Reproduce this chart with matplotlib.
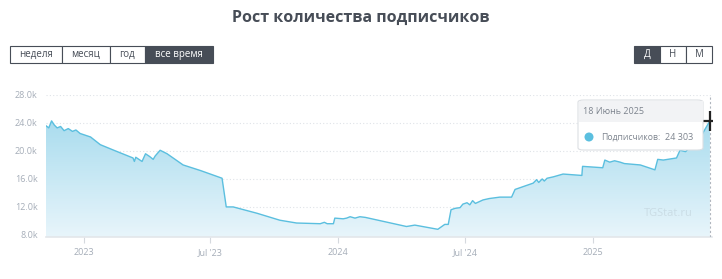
import matplotlib.pyplot as plt
import matplotlib.dates as mdates
import numpy as np
import pandas as pd
from matplotlib.patches import Rectangle, FancyBboxPatch, Ellipse
from matplotlib.colors import LinearSegmentedColormap

plt.rcParams['font.family'] = ['Open Sans', 'DejaVu Sans']

# данные
dates = pd.to_datetime([
    '2022-11-07', '2022-11-11', '2022-11-15', '2022-11-19', '2022-11-23', '2022-11-28',
    '2022-12-03', '2022-12-09', '2022-12-15', '2022-12-20', '2022-12-26', '2023-01-10',
    '2023-01-24', '2023-02-15', '2023-03-12', '2023-03-14', '2023-03-16', '2023-03-25',
    '2023-03-30', '2023-04-05', '2023-04-10', '2023-04-13', '2023-04-20', '2023-04-30',
    '2023-05-23', '2023-06-17', '2023-07-18', '2023-07-24', '2023-08-03', '2023-09-06',
    '2023-10-09', '2023-11-02', '2023-12-06', '2023-12-12', '2023-12-16', '2023-12-25',
    '2023-12-27', '2024-01-08', '2024-01-13', '2024-01-18', '2024-01-25', '2024-02-01',
    '2024-02-09', '2024-04-08', '2024-04-20', '2024-05-23', '2024-06-02', '2024-06-07',
    '2024-06-11', '2024-06-17', '2024-06-24', '2024-06-28', '2024-07-04', '2024-07-08',
    '2024-07-12', '2024-07-16', '2024-07-27', '2024-08-05', '2024-08-20', '2024-09-06',
    '2024-09-11', '2024-10-07', '2024-10-12', '2024-10-15', '2024-10-20', '2024-10-23',
    '2024-10-27', '2024-11-05', '2024-11-19', '2024-12-16', '2024-12-17', '2025-01-15',
    '2025-01-18', '2025-01-25', '2025-02-01', '2025-02-09', '2025-02-15', '2025-03-10',
    '2025-03-31', '2025-04-04', '2025-04-12', '2025-05-01', '2025-05-06', '2025-05-14',
    '2025-05-20', '2025-06-01', '2025-06-08', '2025-06-18',
])
subs = [
    23600, 23300, 24300, 23700, 23300, 23500,
    22900, 23200, 22800, 23000, 22500, 22000,
    20900, 20000, 19000, 18500, 19100, 18500,
    19600, 19200, 18800, 19300, 20100, 19600,
    18000, 17200, 16100, 12000, 12000, 11100,
    10100, 9700, 9600, 9800, 9600, 9600,
    10400, 10300, 10400, 10600, 10400, 10600,
    10500, 9200, 9400, 8800, 9500, 9500,
    11600, 11800, 11900, 12400, 12600, 12300,
    12900, 12500, 13000, 13200, 13400, 13400,
    14500, 15400, 15900, 15500, 16000, 15700,
    16100, 16300, 16700, 16500, 17800, 17600,
    18700, 18400, 18600, 18400, 18200, 18000,
    17300, 18800, 18700, 19000, 20100, 19900,
    20500, 20800, 22600, 24303,
]

yticks = [8000, 12000, 16000, 20000, 24000, 28000]
ytick_labels = ['8.0k', '12.0k', '16.0k', '20.0k', '24.0k', '28.0k']
xticks = pd.to_datetime(['2023-01-01', '2023-07-01', '2024-01-01', '2024-07-01', '2025-01-01'])
xtick_labels = ['2023', "Jul '23", '2024', "Jul '24", '2025']
periods = ['неделя', 'месяц', 'год', 'все время']
scales = ['Д', 'Н', 'М']

W, H = 722, 279
fig = plt.figure(figsize=(W / 100, H / 100), dpi=100)
ax = fig.add_axes([46 / W, 42 / H, 666 / W, 142 / H])

line_c = '#5bbfdf'
x = mdates.date2num(dates)
y = np.array(subs, dtype=float)
ymin, ymax = 7700, 28000

# градиентная заливка под линией
grad = np.linspace(0, 1, 256).reshape(-1, 1)
cmap = LinearSegmentedColormap.from_list('g', ['#e8f5fb', '#a9dcee'])
im = ax.imshow(grad, aspect='auto', cmap=cmap, origin='lower',
               extent=[x[0], x[-1], ymin, 24500], zorder=1)
poly = ax.fill_between(x, y, ymin, color='none')
im.set_clip_path(poly.get_paths()[0], transform=ax.transData)
ax.plot(x, y, color=line_c, lw=1.0, zorder=3)

ax.set_xlim(mdates.date2num(pd.Timestamp('2022-11-07')), mdates.date2num(pd.Timestamp('2025-06-21')))
ax.set_ylim(ymin, ymax)
ax.set_yticks(yticks)
ax.set_yticklabels(ytick_labels)
ax.set_xticks(mdates.date2num(xticks))
ax.set_xticklabels(xtick_labels)
for yt in yticks:
    ax.axhline(yt, color='#dfe3e8', lw=0.8, ls=(0, (1, 2)), zorder=0)
for s in ['top', 'right', 'left']:
    ax.spines[s].set_visible(False)
ax.spines['bottom'].set_color('#e3e6ea')
ax.spines['bottom'].set_linewidth(1.2)
ax.tick_params(axis='y', length=0, labelsize=6.5, labelcolor='#a5adb8', pad=6)
ax.tick_params(axis='x', length=4, color='#d5d9de', labelsize=6.5, labelcolor='#a5adb8', pad=4)

# вертикальная линия и перекрестие
ax.axvline(x[-1], color='#b0b6be', lw=0.8, ls=(0, (2, 2)), zorder=4)
ax.plot([x[-1]], [y[-1]], marker='+', color='#222222', ms=14, mew=1.6, zorder=6)

# заголовок
fig.text(0.5, 1 - 18 / H, 'Рост количества подписчиков', ha='center', va='center',
         fontsize=11.5, fontweight='bold', color='#474d57')

# кнопки
def button(x0, x1, label, active):
    fc = '#474d57' if active else 'white'
    tc = 'white' if active else '#474d57'
    r = Rectangle((x0 / W, 1 - 63 / H), (x1 - x0) / W, 17 / H, transform=fig.transFigure,
                  facecolor=fc, edgecolor='#474d57', lw=0.8)
    fig.patches.append(r)
    fig.text((x0 + x1) / 2 / W, 1 - 54.5 / H, label, ha='center', va='center',
             fontsize=7, color=tc)

bx = [10, 62, 110, 145, 213]
for i, lab in enumerate(periods):
    button(bx[i], bx[i + 1], lab, i == 3)
sx = [634, 660, 686, 712]
for i, lab in enumerate(scales):
    button(sx[i], sx[i + 1], lab, i == 0)

# подсказка
tip = FancyBboxPatch((578 / W, 1 - 150 / H), 125 / W, 50 / H, transform=fig.transFigure,
                     boxstyle='round,pad=0,rounding_size=0.008', facecolor='white',
                     edgecolor='#dcdfe3', lw=0.8, zorder=10)
fig.patches.append(tip)
head = Rectangle((578.5 / W, 1 - 122 / H), 124 / W, 21.5 / H, transform=fig.transFigure,
                 facecolor='#f2f3f5', edgecolor='none', zorder=11)
fig.patches.append(head)
fig.text(583 / W, 1 - 111 / H, '18 Июнь 2025', fontsize=6.5, color='#7d848e',
         va='center', zorder=12)
fig.patches.append(Ellipse((589 / W, 1 - 137 / H), 9 / W, 9 / H, transform=fig.transFigure,
                           facecolor=line_c, edgecolor='none', zorder=12))
fig.text(601 / W, 1 - 137 / H, 'Подписчиков:', fontsize=6.2, color='#7d848e',
         va='center', zorder=12)
fig.text(665 / W, 1 - 137 / H, '24 303', fontsize=6.5, color='#7d848e',
         va='center', zorder=12)

# размытый водяной знак
fig.text(668 / W, 1 - 213 / H, 'TGStat.ru', fontsize=8, color='#8a9099', alpha=0.2,
         ha='center', va='center')

fig.savefig('out.png', dpi=100)
